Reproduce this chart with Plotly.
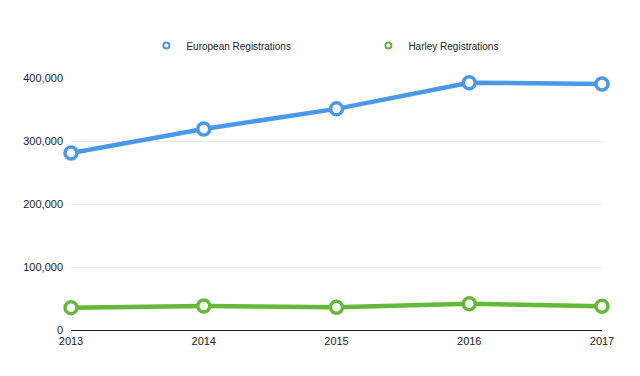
import plotly.graph_objects as go

years = [2013, 2014, 2015, 2016, 2017]
european = [281000, 319000, 351000, 392500, 390500]
harley = [35500, 38000, 36000, 41800, 37600]
y_ticks = [0, 100000, 200000, 300000, 400000]
y_tick_labels = ["0", "100,000", "200,000", "300,000", "400,000"]

series = [
    ("European Registrations", european, "#4A98EC"),
    ("Harley Registrations", harley, "#66B83A"),
]

fig = go.Figure()
for name, vals, col in series:
    fig.add_trace(go.Scatter(
        x=years, y=vals, mode="lines+markers", name=name, showlegend=False,
        line=dict(color=col, width=4.5),
        marker=dict(symbol="circle", size=12, color="white", line=dict(color=col, width=3.5)),
        cliponaxis=False,
    ))
    # legend entry (marker only)
    fig.add_trace(go.Scatter(
        x=[None], y=[None], mode="markers", name=name, showlegend=True,
        marker=dict(symbol="circle", size=6, color="white", line=dict(color=col, width=2)),
    ))

fig.update_layout(
    width=640, height=376,
    margin=dict(l=63, r=46, t=70, b=54),
    paper_bgcolor="white", plot_bgcolor="white",
    font=dict(family="Liberation Sans, Arial, sans-serif", size=11, color="#222"),
    legend=dict(orientation="h", x=0.142, xanchor="left", y=0.9, yanchor="middle",
                yref="container", itemwidth=30, entrywidth=177, entrywidthmode="pixels",
                font=dict(size=10, color="#222")),
    xaxis=dict(range=[2013, 2017], tickvals=years, ticktext=[str(y) for y in years],
               showgrid=False, zeroline=False, showline=True, linecolor="#222", linewidth=1.2,
               ticks="", ticklabelstandoff=1),
    yaxis=dict(range=[0, 400000], tickvals=y_ticks, ticktext=y_tick_labels,
               showgrid=True, gridcolor="#e8e8e8", gridwidth=1, zeroline=False,
               showline=False, ticks="", ticklabelstandoff=7),
)
fig.write_html("out.html")
